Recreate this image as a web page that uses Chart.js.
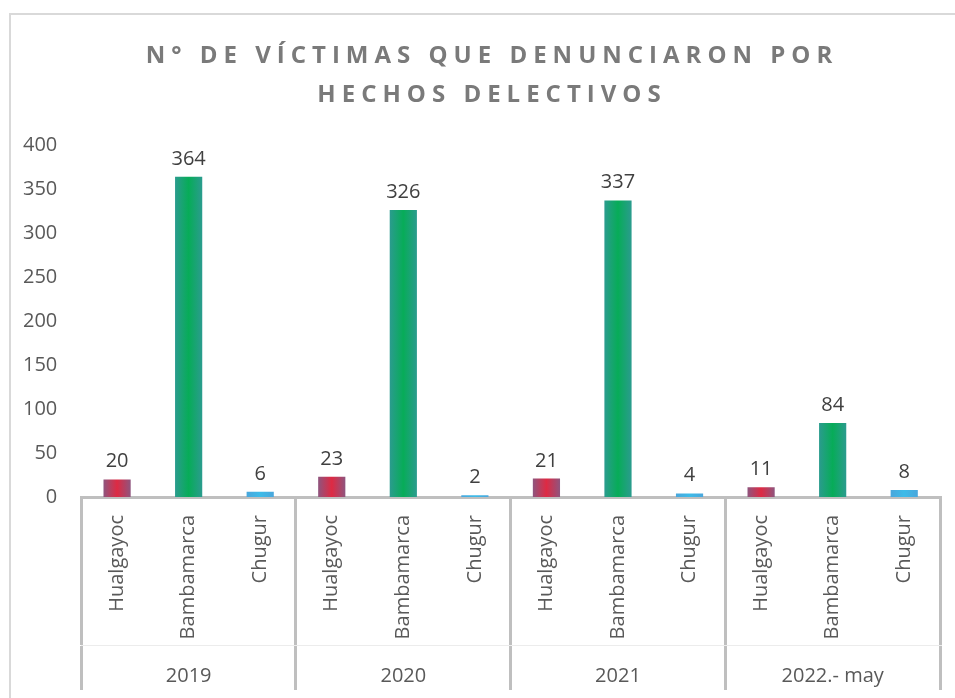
<!DOCTYPE html>
<html>
<head>
<meta charset="utf-8">
<style>
  html, body { margin: 0; padding: 0; background: #ffffff; overflow: hidden; }
  canvas { display: block; }
</style>
<script src="https://cdn.jsdelivr.net/npm/chart.js@4/dist/chart.umd.min.js"></script>
</head>
<body>
<canvas id="c" width="955" height="698"></canvas>
<script>
// ---- data ----
const years = ['2019', '2020', '2021', '2022.- may'];
const districts = ['Hualgayoc', 'Bambamarca', 'Chugur'];
const hualgayoc = [20, 23, 21, 11];
const bambamarca = [364, 326, 337, 84];
const chugur = [6, 2, 4, 8];
const yTicks = [0, 50, 100, 150, 200, 250, 300, 350, 400];
const titleLines = ['N° DE VÍCTIMAS QUE DENUNCIARON POR', 'HECHOS DELECTIVOS'];

// build flat table for the library
const seriesByDistrict = [hualgayoc, bambamarca, chugur];
const labels = [];
const values = [];
const districtIdx = [];
years.forEach((y, yi) => {
  districts.forEach((d, di) => {
    labels.push(d);
    values.push(seriesByDistrict[di][yi]);
    districtIdx.push(di);
  });
});

// styles
const palette = [
  { edge: '#8c5680', center: '#de2a43' },
  { edge: '#2c9b90', center: '#07ac58' },
  { edge: '#4aa6dc', center: '#3dbbe8' }
];
const FONT = '"Open Sans", "Noto Sans", sans-serif';

function barFill(ctx) {
  const chart = ctx.chart;
  const p = palette[districtIdx[ctx.dataIndex]] || palette[0];
  const xs = chart.scales && chart.scales.x;
  if (!xs || !chart.chartArea || ctx.dataIndex === undefined) return p.center;
  const x = xs.getPixelForValue(ctx.dataIndex);
  const g = chart.ctx.createLinearGradient(x - 14, 0, x + 14, 0);
  g.addColorStop(0, p.edge);
  g.addColorStop(0.5, p.center);
  g.addColorStop(1, p.edge);
  return g;
}

const frameAndTitle = {
  id: 'frameAndTitle',
  beforeDraw(chart) {
    const ctx = chart.ctx;
    ctx.save();
    ctx.strokeStyle = '#d9d9d9';
    ctx.lineWidth = 2;
    ctx.strokeRect(10, 14, 960, 700);
    ctx.restore();
  },
  afterDraw(chart) {
    const ctx = chart.ctx;
    ctx.save();
    ctx.font = 'bold 24px ' + FONT;
    ctx.fillStyle = '#7a7a7a';
    ctx.textAlign = 'center';
    ctx.textBaseline = 'alphabetic';
    try { ctx.letterSpacing = '6px'; } catch (e) {}
    ctx.fillText(titleLines[0], 492, 63);
    ctx.fillText(titleLines[1], 492, 102);
    ctx.restore();
  }
};

const valueLabels = {
  id: 'valueLabels',
  afterDatasetsDraw(chart) {
    const ctx = chart.ctx;
    const meta = chart.getDatasetMeta(0);
    ctx.save();
    ctx.font = '20px ' + FONT;
    ctx.fillStyle = '#404040';
    ctx.textAlign = 'center';
    ctx.textBaseline = 'alphabetic';
    meta.data.forEach((el, i) => {
      ctx.fillText(String(values[i]), el.x, el.y - 12);
    });
    ctx.restore();
  }
};

Chart.defaults.font.family = FONT;
Chart.defaults.font.size = 20;
Chart.defaults.color = '#595959';

new Chart(document.getElementById('c'), {
  type: 'bar',
  data: {
    labels: labels,
    datasets: [{
      data: values,
      backgroundColor: barFill,
      borderWidth: 0,
      categoryPercentage: 1,
      barPercentage: 0.38
    }]
  },
  options: {
    responsive: false,
    animation: false,
    devicePixelRatio: 1,
    layout: { padding: { left: 7, right: 15, top: 145, bottom: 8 } },
    plugins: {
      legend: { display: false },
      title: { display: false },
      tooltip: { enabled: false }
    },
    scales: {
      y: {
        min: 0,
        max: 400,
        afterBuildTicks(axis) { axis.ticks = yTicks.map(v => ({ value: v })); },
        grid: { display: false },
        border: { display: false },
        ticks: { padding: 16, color: '#595959', font: { size: 20 } }
      },
      x: {
        type: 'category',
        position: 'bottom',
        weight: 0,
        offset: true,
        afterFit(axis) { axis.height = 148; },
        border: { display: true, color: '#bfbfbf', width: 3 },
        grid: {
          offset: true,
          drawOnChartArea: false,
          drawTicks: true,
          tickLength: 148,
          lineWidth: 3,
          color: (c) => (c.index === undefined || c.index % districts.length === 0) ? '#bfbfbf' : 'rgba(0,0,0,0)'
        },
        ticks: {
          autoSkip: false,
          minRotation: 90,
          maxRotation: 90,
          padding: -130,
          color: '#595959',
          font: { size: 20 }
        }
      },
      x2: {
        type: 'category',
        position: 'bottom',
        weight: 1,
        labels: years,
        offset: true,
        afterFit(axis) { axis.height = 45; },
        border: { display: true, color: '#ececec', width: 1 },
        grid: {
          offset: true,
          drawOnChartArea: false,
          drawTicks: true,
          tickLength: 45,
          lineWidth: 3,
          color: '#bfbfbf'
        },
        ticks: {
          autoSkip: false,
          maxRotation: 0,
          minRotation: 0,
          padding: -26,
          color: '#595959',
          font: { size: 20 }
        }
      }
    }
  },
  plugins: [frameAndTitle, valueLabels]
});
</script>
</body>
</html>
